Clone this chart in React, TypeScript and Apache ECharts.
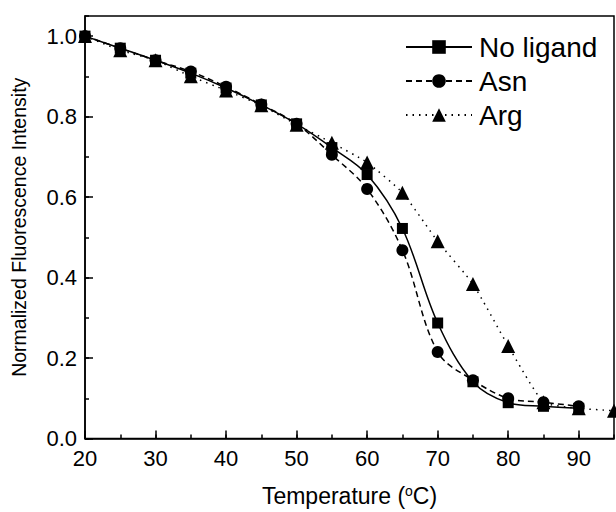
import React, { useEffect, useRef } from "react";
import * as echarts from "echarts";

const temperatures = [20, 25, 30, 35, 40, 45, 50, 55, 60, 65, 70, 75, 80, 85, 90, 95];
const noLigand = [1.0, 0.97, 0.94, 0.908, 0.871, 0.829, 0.782, 0.723, 0.656, 0.522, 0.287, 0.141, 0.089, 0.08, 0.075];
const asn = [1.0, 0.97, 0.94, 0.912, 0.874, 0.83, 0.782, 0.705, 0.62, 0.468, 0.215, 0.145, 0.1, 0.09, 0.08];
const arg = [1.0, 0.965, 0.94, 0.9, 0.865, 0.828, 0.78, 0.735, 0.686, 0.611, 0.49, 0.384, 0.23, 0.09, 0.075, 0.069];
const seriesNames = ["No ligand", "Asn", "Arg"];
const yTicks = ["0.0", "0.2", "0.4", "0.6", "0.8", "1.0"];

const FONT = "'Liberation Sans', Arial, Helvetica, sans-serif";

function pairs(vals: number[]) {
  return vals.map((v, i) => [temperatures[i], v]);
}

export default function App() {
  const ref = useRef<HTMLDivElement>(null);
  useEffect(() => {
    if (!ref.current) return;
    const chart = echarts.init(ref.current, null, { renderer: "svg" });
    const axisLine = { show: true, lineStyle: { color: "#000", width: 1.5 } };
    chart.setOption({
      animation: false,
      backgroundColor: "#fff",
      grid: {
        left: 85,
        right: 2,
        top: 16,
        bottom: 72,
        show: true,
        borderColor: "#000",
        borderWidth: 1.5,
      },
      legend: {
        left: 400,
        top: 28,
        orient: "vertical",
        itemWidth: 66,
        itemHeight: 17,
        itemGap: 6,
        data: seriesNames,
        textStyle: { fontFamily: FONT, fontSize: 28, color: "#000", padding: [0, 0, 0, 2] },
      },
      xAxis: [
        {
          type: "value",
          min: 20,
          max: 95,
          interval: 10,
          axisLine,
          axisTick: { show: true, inside: true, length: 8, lineStyle: { color: "#000", width: 1.5 } },
          axisLabel: {
            showMaxLabel: false,
            margin: 9,
            fontFamily: FONT,
            fontSize: 22,
            color: "#000",
          },
          splitLine: { show: false },
          name: "{a|Temperature (}{s|o}{a|C)}",
          nameLocation: "middle",
          nameGap: 45,
          nameTextStyle: {
            rich: {
              a: { fontFamily: FONT, fontSize: 23, color: "#000" },
              s: { fontFamily: FONT, fontSize: 14, color: "#000", verticalAlign: "top", padding: [0, 0, 10, 0] },
            },
          },
        },
        {
          type: "value",
          min: 20,
          max: 95,
          interval: 5,
          position: "bottom",
          axisLine: { show: false },
          axisTick: { show: true, inside: true, length: 4, lineStyle: { color: "#000", width: 1.5 } },
          axisLabel: { show: false },
          splitLine: { show: false },
        },
      ],
      yAxis: [
        {
          type: "value",
          min: 0,
          max: 1.05,
          interval: 0.2,
          axisLine,
          axisTick: { show: true, inside: true, length: 8, lineStyle: { color: "#000", width: 1.5 } },
          axisLabel: {
            showMaxLabel: false,
            margin: 8,
            fontFamily: FONT,
            fontSize: 22,
            color: "#000",
            formatter: (v: number) => {
              const i = Math.round(v / 0.2);
              return yTicks[i] ?? v.toFixed(1);
            },
          },
          splitLine: { show: false },
          name: "Normalized Fluorescence Intensity",
          nameLocation: "middle",
          nameGap: 56,
          nameTextStyle: { fontFamily: FONT, fontSize: 19.5, color: "#000" },
        },
        {
          type: "value",
          min: 0,
          max: 1.05,
          interval: 0.1,
          position: "left",
          axisLine: { show: false },
          axisTick: { show: true, inside: true, length: 4, lineStyle: { color: "#000", width: 1.5 } },
          axisLabel: { show: false },
          splitLine: { show: false },
        },
      ],
      series: [
        {
          name: seriesNames[0],
          type: "line",
          data: pairs(noLigand),
          smooth: 0.35,
          symbol: "rect",
          symbolSize: 11,
          itemStyle: { color: "#000" },
          lineStyle: { color: "#000", width: 1.5, type: "solid" },
        },
        {
          name: seriesNames[1],
          type: "line",
          data: pairs(asn),
          smooth: 0.35,
          symbol: "circle",
          symbolSize: 12,
          itemStyle: { color: "#000" },
          lineStyle: { color: "#000", width: 1.5, type: [6, 4] },
        },
        {
          name: seriesNames[2],
          type: "line",
          data: pairs(arg),
          smooth: 0.15,
          symbol: "triangle",
          symbolSize: 14,
          itemStyle: { color: "#000" },
          lineStyle: { color: "#000", width: 1.5, type: [1.5, 5] },
        },
      ],
    });
    return () => chart.dispose();
  }, []);
  return <div ref={ref} style={{ width: 616, height: 512, position: "absolute", left: 0, top: 0 }} />;
}
